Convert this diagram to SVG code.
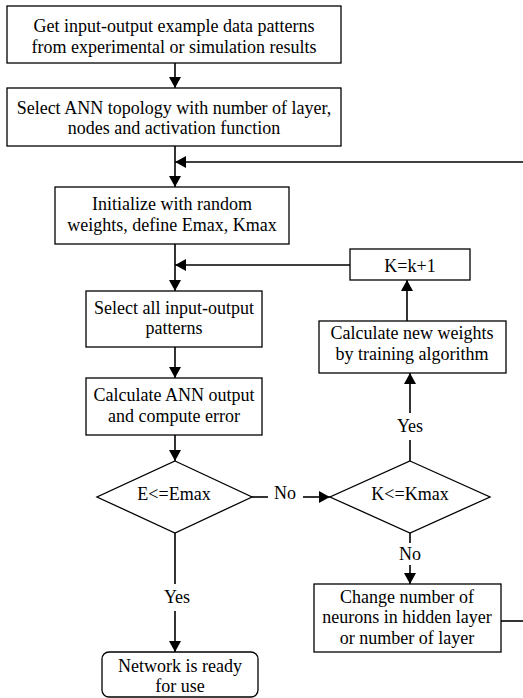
<svg xmlns="http://www.w3.org/2000/svg" width="523" height="698" viewBox="0 0 523 698">
<defs>
<marker id="ah" markerWidth="10" markerHeight="12" refX="11" refY="6" orient="auto" markerUnits="userSpaceOnUse">
<path d="M0,0 L11,6 L0,12 Z" fill="#000"/>
</marker>
<style>
.box{fill:#fff;stroke:#000;stroke-width:1.3}
.ln{fill:none;stroke:#000;stroke-width:1.6}
.ar{fill:none;stroke:#000;stroke-width:1.6;marker-end:url(#ah)}
.t{font-family:"Liberation Serif","Times New Roman",serif;font-size:18px;fill:#000;text-anchor:middle;dominant-baseline:central}
</style>
</defs>
<g id="connectors">
<line class="ar" x1="175" y1="63" x2="175" y2="88"/>
<line class="ar" x1="175" y1="146" x2="175" y2="187"/>
<line class="ar" x1="523" y1="162" x2="175" y2="162"/>
<line class="ar" x1="175" y1="244" x2="175" y2="291"/>
<line class="ar" x1="350" y1="265" x2="175" y2="265"/>
<line class="ar" x1="175" y1="347" x2="175" y2="378"/>
<line class="ar" x1="175" y1="435" x2="175" y2="461"/>
<line class="ar" x1="407" y1="321" x2="407" y2="280"/>
<line class="ln" x1="252" y1="497" x2="268" y2="497"/>
<line class="ar" x1="303" y1="497" x2="330" y2="497"/>
<line class="ln" x1="410" y1="461" x2="410" y2="440"/>
<line class="ar" x1="410" y1="413" x2="410" y2="373"/>
<line class="ln" x1="410" y1="533" x2="410" y2="543"/>
<line class="ar" x1="410" y1="565" x2="410" y2="584"/>
<line class="ln" x1="175" y1="533" x2="175" y2="584"/>
<line class="ar" x1="175" y1="611" x2="175" y2="652"/>
<line class="ln" x1="501" y1="621" x2="523" y2="621"/>
<g class="t">
<text x="285" y="493">No</text>
<text x="410" y="426">Yes</text>
<text x="410" y="554">No</text>
<text x="177" y="597">Yes</text>
</g>
</g>
<g id="n1"><rect class="box" x="7" y="6" width="334" height="57"/><g class="t"><text x="174" y="26">Get input-output example data patterns</text><text x="174" y="47">from experimental or simulation results</text></g></g>
<g id="n2"><rect class="box" x="7" y="88" width="334" height="58"/><g class="t"><text x="174" y="108">Select ANN topology with number of layer,</text><text x="174" y="128">nodes and activation function</text></g></g>
<g id="n3"><rect class="box" x="55" y="187" width="234" height="57"/><g class="t"><text x="172" y="204">Initialize with random</text><text x="172" y="225">weights, define Emax, Kmax</text></g></g>
<g id="n4"><rect class="box" x="86" y="291" width="176" height="56"/><g class="t"><text x="174" y="308">Select all input-output</text><text x="174" y="328">patterns</text></g></g>
<g id="n5"><rect class="box" x="86" y="378" width="176" height="57"/><g class="t"><text x="174" y="395">Calculate ANN output</text><text x="174" y="416">and compute error</text></g></g>
<g id="n6"><polygon class="box" points="175,461 252,497 175,533 97,497"/><g class="t"><text x="174" y="494">E&lt;=Emax</text></g></g>
<g id="n7"><polygon class="box" points="410,461 490,497 410,533 330,497"/><g class="t"><text x="410" y="494">K&lt;=Kmax</text></g></g>
<g id="n8"><rect class="box" x="319" y="321" width="187" height="52"/><g class="t"><text x="412" y="333">Calculate new weights</text><text x="412" y="354">by training algorithm</text></g></g>
<g id="n9"><rect class="box" x="350" y="249" width="120" height="31"/><g class="t"><text x="410" y="266">K=k+1</text></g></g>
<g id="n10"><rect class="box" x="314" y="584" width="187" height="68"/><g class="t"><text x="407" y="597">Change number of</text><text x="407" y="617">neurons in hidden layer</text><text x="407" y="638">or number of layer</text></g></g>
<g id="n11"><rect class="box" x="102" y="652" width="156" height="45" rx="7"/><g class="t"><text x="180" y="666">Network is ready</text><text x="180" y="686">for use</text></g></g>
</svg>
